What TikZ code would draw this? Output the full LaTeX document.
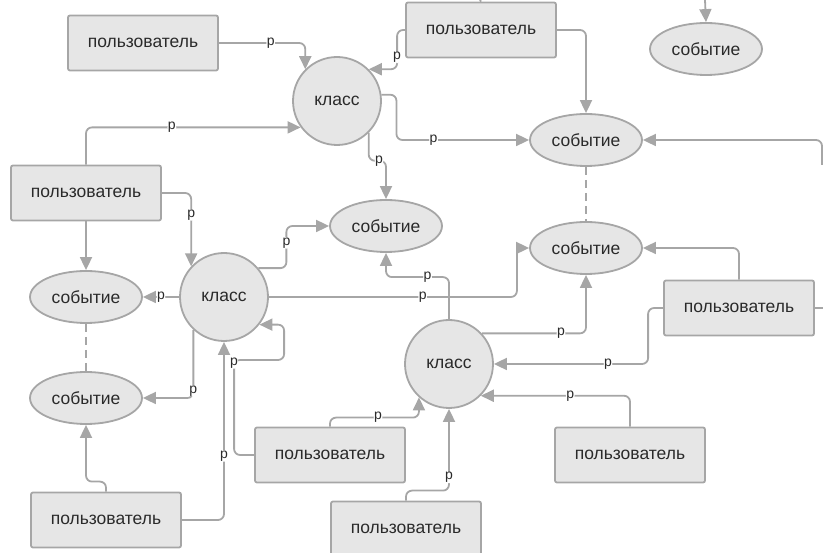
\documentclass[tikz,border=0pt]{standalone}
\usepackage{fontspec}
\setmainfont{Liberation Sans}
\usetikzlibrary{arrows.meta,shapes.geometric}
\definecolor{edge}{HTML}{A6A6A6}
\definecolor{body}{HTML}{E6E6E6}
\definecolor{ink}{HTML}{2A2A2A}
\begin{document}
\begin{tikzpicture}[x=1pt, y=-1pt,
    user/.style={draw=edge, fill=body, line width=1.8pt, rounded corners=2pt, minimum width=150pt, minimum height=55pt, text=ink, font=\fontsize{17.5}{20}\selectfont},
    cls/.style={circle, draw=edge, fill=body, line width=1.8pt, minimum size=88pt, inner sep=0pt, text=ink, font=\fontsize{17.5}{20}\selectfont},
    evt/.style={ellipse, draw=edge, fill=body, line width=1.8pt, minimum width=112pt, minimum height=52pt, inner sep=0pt, text=ink, font=\fontsize{17.5}{20}\selectfont},
    wire/.style={draw=edge, line width=1.8pt, rounded corners=6pt},
    link/.style={wire, -{Triangle[length=13pt,width=12pt]}},
    lbl/.style={fill=white, inner sep=0.5pt, text=ink, font=\fontsize{14}{14}\selectfont}]
    \useasboundingbox (0,0) rectangle (823,553);
    \node[user] (user1) at (143,43) {пользователь};
    \node[user] (user2) at (481,30) {пользователь};
    \node[user] (user3) at (739,308) {пользователь};
    \node[user] (user4) at (630,455) {пользователь};
    \node[user] (user5) at (406,529) {пользователь};
    \node[user] (user6) at (330,455) {пользователь};
    \node[user] (user7) at (106,520) {пользователь};
    \node[user] (user8) at (86,193) {пользователь};
    \node[cls] (class1) at (337,101) {класс};
    \node[cls] (class2) at (224,297) {класс};
    \node[cls] (class3) at (449,364) {класс};
    \node[evt] (event1) at (706,49) {событие};
    \node[evt] (event2) at (586,140) {событие};
    \node[evt] (event3) at (586,248) {событие};
    \node[evt] (event4) at (86,297) {событие};
    \node[evt] (event5) at (86,398) {событие};
    \node[evt] (event6) at (386,226) {событие};
    \coordinate (top1) at (480,0);
    \coordinate (top2) at (705,0);
    \coordinate (right1) at (822,165);
    \coordinate (right2) at (823,308);
    \draw[link] (user1.east) -| node[lbl,pos=0.3] {p} (class1.135);
    \draw[link] (user2.west) -- ++(-8,0) |- node[lbl,pos=0.35] {p} (class1.45);
    \draw[link] (user2.east) -| (event2.north);
    \draw[wire] (user2.north) -- (top1);
    \draw[link] (top2) -- (event1.north);
    \draw[link] (right1) |- (event2.east);
    \draw[link] (class1.8) -- ++(15,0) |- node[lbl,pos=0.64] {p} (event2.west);
    \draw[link] (class1.-45) -- ++(0,28) -| node[lbl,pos=0.3] {p} (event6.north);
    \draw[link] (user8.north) |- node[lbl,pos=0.7] {p} (class1.216);
    \draw[link] (user8.east) -| node[lbl,pos=0.65] {p} (class2.137);
    \draw[link] (user8.south) -- (event4.north);
    \draw[link] (class2.west) -- node[lbl] {p} (event4.east);
    \draw[link] (class2.227) |- node[lbl,pos=0.45] {p} (event5.east);
    \draw[link] (class2.40) -- ++(28,0) |- node[lbl,pos=0.3] {p} (event6.west);
    \draw[link] (class2.east) -- node[lbl,pos=0.62] {p} ++(248,0) |- (event3.west);
    \draw[link] (class3.north) -- ++(0,-42) -| node[lbl,pos=0.17] {p} (event6.south);
    \draw[link] (class3.43) -| node[lbl,pos=0.38] {p} (event3.south);
    \draw[link] (user3.north) |- (event3.east);
    \draw[link] (user3.west) -- ++(-15,0) |- node[lbl,pos=0.63] {p} (class3.east);
    \draw[wire] (user3.east) -- (right2);
    \draw[link] (user4.north) |- node[lbl,pos=0.7] {p} (class3.-45);
    \draw[link] (user5.north) -- ++(0,-10) -| node[lbl,pos=0.58] {p} (class3.south);
    \draw[link] (user6.north) -- ++(0,-9) -| node[lbl,pos=0.27] {p} (class3.228);
    \draw[link] (user6.west) -- ++(-20,0) -- ++(0,-95) node[lbl,pos=0.97] {p} -- ++(50,0) |- (class2.-38);
    \draw[link] (user7.north) -- ++(0,-10) -| (event5.south);
    \draw[link] (user7.east) -| node[lbl,pos=0.68] {p} (class2.south);
    \draw[wire, dash pattern=on 8pt off 5pt] (event2.south) -- (event3.north);
    \draw[wire, dash pattern=on 8pt off 5pt] (event4.south) -- (event5.north);
\end{tikzpicture}
\end{document}
